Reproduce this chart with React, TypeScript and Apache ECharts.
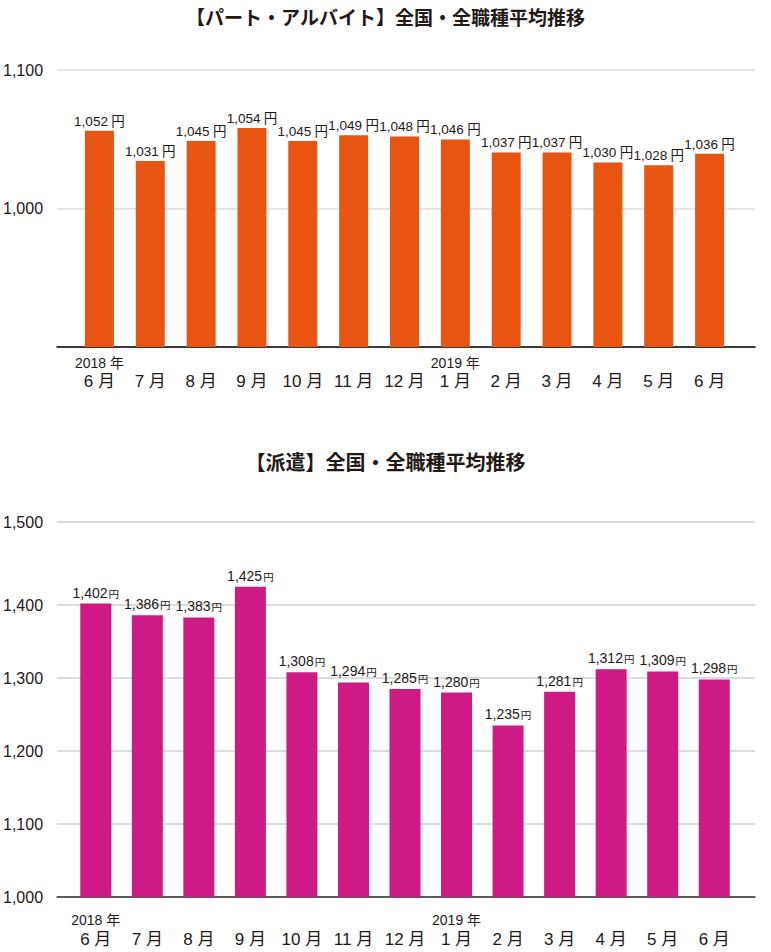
import React, { useEffect, useRef } from "react";
import * as echarts from "echarts";

const months = ["6", "7", "8", "9", "10", "11", "12", "1", "2", "3", "4", "5", "6"];
const years = ["2018 年", "", "", "", "", "", "", "2019 年", "", "", "", "", ""];
const partValues = [1052, 1031, 1045, 1054, 1045, 1049, 1048, 1046, 1037, 1037, 1030, 1028, 1036];
const hakenValues = [1402, 1386, 1383, 1425, 1308, 1294, 1285, 1280, 1235, 1281, 1312, 1309, 1298];
const title1 = "【パート・アルバイト】全国・全職種平均推移";
const title2 = "【派遣】全国・全職種平均推移";

const FONT = "'Liberation Sans', 'Noto Sans CJK JP', sans-serif";
const TXT = "#231815";

const fmt = (v: number) => v.toString().replace(/\B(?=(\d{3})+(?!\d))/g, ",");

export default function App() {
  const ref = useRef<HTMLDivElement>(null);
  useEffect(() => {
    if (!ref.current) return;
    const chart = echarts.init(ref.current, null, { renderer: "svg" });
    const cats = months.map((m, i) => `${years[i]}|${m}`);
    const makeXLabel = (margin: number, yLH: number) => ({
      interval: 0,
      margin,
      color: TXT,
      fontFamily: FONT,
      formatter: (v: string) => {
        const [y, m] = v.split("|");
        return `{y|${y || " "}}\n{m|${m} 月}`;
      },
      rich: {
        y: { fontSize: 14, color: TXT, fontFamily: FONT, lineHeight: yLH },
        m: { fontSize: 17, color: TXT, fontFamily: FONT, lineHeight: 20 },
      },
    });
    const yLabelStyle = { color: TXT, fontSize: 16, fontFamily: FONT, margin: 14 };
    const titleStyle = { fontSize: 19, fontWeight: "bold", color: TXT, fontFamily: FONT };
    const hiddenX = (gridIndex: number) => ({ type: "value", gridIndex, show: false, min: 0, max: 1 });
    chart.setOption({
      animation: false,
      title: [
        { text: title1, left: "center", top: 4, textStyle: titleStyle },
        { text: title2, left: "center", top: 448, textStyle: { ...titleStyle, fontSize: 20 } },
      ],
      grid: [
        { left: 55, right: 16, top: 70, height: 277 },
        { left: 74, right: 36, top: 70, height: 277 },
        { left: 55, right: 16, top: 605, height: 292 },
        { left: 70, right: 31, top: 532, height: 365 },
        { left: 55, right: 16, top: 522, height: 375 },
      ],
      xAxis: [
        { type: "value", gridIndex: 0, show: true, axisLabel: { show: false }, splitLine: { show: false }, axisTick: { show: false }, axisLine: { show: true, lineStyle: { color: "#000", width: 1.5 } }, min: 0, max: 1 },
        { type: "category", gridIndex: 1, data: cats, axisLine: { show: false }, axisTick: { show: false }, axisLabel: makeXLabel(7, 17) },
        { type: "value", gridIndex: 2, show: true, axisLabel: { show: false }, splitLine: { show: false }, axisTick: { show: false }, axisLine: { show: true, lineStyle: { color: "#333", width: 1.5 } }, min: 0, max: 1 },
        { type: "category", gridIndex: 3, data: cats, axisLine: { show: false }, axisTick: { show: false }, axisLabel: makeXLabel(14, 18) },
        hiddenX(4),
      ],
      yAxis: [
        { type: "value", gridIndex: 0, min: 900, max: 1100, interval: 100, axisLine: { show: false }, axisTick: { show: false }, axisLabel: { ...yLabelStyle, formatter: (v: number) => (v === 900 ? "" : fmt(v)) }, splitLine: { show: true, lineStyle: { color: "#dcdcdc", width: 1.5 } } },
        { type: "value", gridIndex: 1, min: 901.4, max: 1094.4, show: false, splitLine: { show: false } },
        { type: "value", gridIndex: 2, min: 1000, max: 1400, interval: 100, axisLine: { show: false }, axisTick: { show: false }, axisLabel: { ...yLabelStyle, formatter: (v: number) => fmt(v) }, splitLine: { show: true, lineStyle: { color: "#d0d0d0", width: 1.5 } } },
        { type: "value", gridIndex: 3, min: 1000, max: 1500, show: false, splitLine: { show: false } },
        { type: "value", gridIndex: 4, min: 1000, max: 1500, interval: 500, axisLine: { show: false }, axisTick: { show: false }, axisLabel: { ...yLabelStyle, formatter: (v: number) => (v === 1500 ? fmt(v) : "") }, splitLine: { show: true, lineStyle: { color: "#d0d0d0", width: 1.5 } } },
      ],
      series: [
        {
          type: "bar",
          xAxisIndex: 1,
          yAxisIndex: 1,
          data: partValues,
          barWidth: 29,
          itemStyle: { color: "#E85513" },
          label: {
            show: true,
            position: "top",
            distance: 3,
            formatter: (p: any) => `{v|${fmt(p.value)}} {u|円}`,
            rich: {
              v: { fontSize: 13.5, color: TXT, fontFamily: FONT },
              u: { fontSize: 13.5, color: TXT, fontFamily: FONT },
            },
          },
        },
        {
          type: "bar",
          xAxisIndex: 3,
          yAxisIndex: 3,
          data: hakenValues,
          barWidth: 31,
          z: 3,
          itemStyle: { color: "#CD1A85" },
          label: {
            show: true,
            position: "top",
            distance: 4,
            formatter: (p: any) => `{v|${fmt(p.value)}}{u|円}`,
            rich: {
              v: { fontSize: 14, color: TXT, fontFamily: FONT },
              u: { fontSize: 10.5, color: TXT, fontFamily: FONT, padding: [2, 0, 0, 1] },
            },
          },
        },
      ],
    });
    return () => chart.dispose();
  }, []);
  return <div ref={ref} style={{ position: "absolute", left: 0, top: 0, width: 771, height: 952, background: "#fff" }} />;
}
